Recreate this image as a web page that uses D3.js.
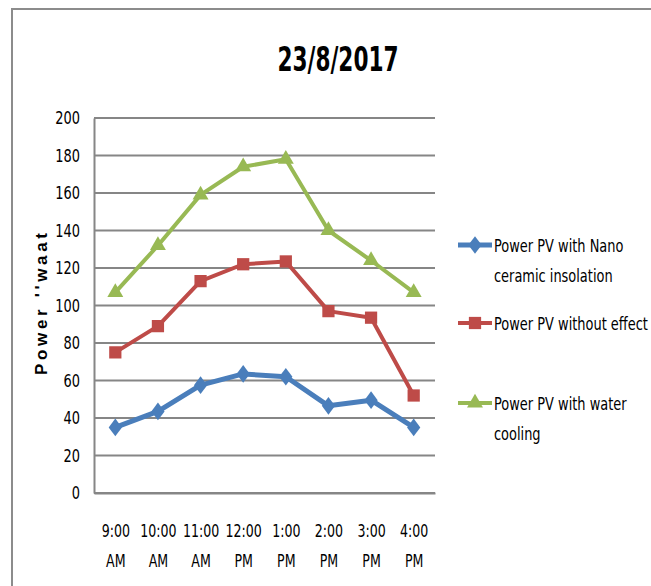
<!DOCTYPE html>
<html>
<head>
  <meta charset="utf-8">
  <title>23/8/2017</title>
  <style>
  body { margin: 0; background: #fff; }
  text { font-family: "DejaVu Sans", sans-serif; fill: #000; }
  .grid line { stroke: #868686; stroke-width: 2; }
  .series path.line { fill: none; stroke-linejoin: round; stroke-linecap: round; }
  </style>
</head>
<body>
  <script src="https://d3js.org/d3.v7.min.js"></script>
  <script>
    // values
    var times = ["9:00 AM", "10:00 AM", "11:00 AM", "12:00 PM", "1:00 PM", "2:00 PM", "3:00 PM", "4:00 PM"];
    var nanoCeramic = [35, 43.5, 57.5, 63.5, 62, 46.5, 49.5, 35];
    var withoutEffect = [75, 89, 113, 122, 123.5, 97, 93.5, 52];
    var waterCooling = [107, 132, 159, 174, 178, 140, 124, 107];
    var yTicks = [0, 20, 40, 60, 80, 100, 120, 140, 160, 180, 200];

    var series = [
      { name: ["Power PV with Nano", "ceramic insolation"], values: nanoCeramic, color: "#4A7EBB", symbol: d3.symbolDiamond, size: 90, width: 5, ly: 245 },
      { name: ["Power PV without effect"], values: withoutEffect, color: "#BE4B48", symbol: d3.symbolSquare, size: 150, width: 4, ly: 323 },
      { name: ["Power PV with water", "cooling"], values: waterCooling, color: "#98B954", symbol: d3.symbolTriangle, size: 110, width: 4, ly: 403 }
    ];

    var width = 651, height = 586;

    // no narrow font installed, so squeeze text horizontally
    function condense(sel, k) {
      sel.each(function() {
        var t = d3.select(this);
        var tx = +t.attr("x") || 0, ty = +t.attr("y") || 0;
        t.attr("x", 0).attr("y", 0)
         .attr("transform", "translate(" + tx + "," + ty + ") scale(" + k + ",1)");
      });
    }

    var svg = d3.select("body").append("svg")
        .attr("width", width)
        .attr("height", height);

    // chart border (only top & left visible)
    svg.append("path")
        .attr("d", "M12,586V9H651")
        .attr("fill", "none")
        .attr("stroke", "#8c8c8c")
        .attr("stroke-width", 2);

    var x = d3.scalePoint().domain(times).range([94, 435]).padding(0.5);
    var y = d3.scaleLinear().domain([0, 200]).range([493, 118]);

    // gridlines
    svg.append("g").attr("class", "grid")
      .selectAll("line")
      .data(yTicks)
      .enter().append("line")
        .attr("x1", 94).attr("x2", 435)
        .attr("y1", function(d) { return y(d); })
        .attr("y2", function(d) { return y(d); });

    // y axis
    var yAxis = svg.append("g")
        .attr("transform", "translate(94,0)")
        .call(d3.axisLeft(y).tickValues(yTicks).tickSize(0).tickPadding(14));
    yAxis.attr("font-family", null).attr("font-size", null);
    yAxis.select(".domain").attr("stroke", "#868686").attr("stroke-width", 2);
    yAxis.selectAll("text").attr("font-size", 18).call(condense, 0.72);

    // x axis with two-line labels
    var xAxis = svg.append("g")
        .attr("transform", "translate(0,493)")
        .call(d3.axisBottom(x).tickSize(0).tickFormat(""));
    xAxis.attr("font-family", null).attr("font-size", null);
    xAxis.select(".domain").attr("stroke", "#868686").attr("stroke-width", 2);
    xAxis.selectAll(".tick").each(function(d) {
      var tk = d3.select(this);
      d.split(" ").forEach(function(p, i) {
        tk.append("text")
            .attr("class", "xl")
            .attr("text-anchor", "middle")
            .attr("font-size", 17.5)
            .attr("y", 44 + i * 30)
            .attr("fill", "#000")
            .text(p);
      });
    });
    xAxis.selectAll("text.xl").call(condense, 0.72);

    // title
    svg.append("text")
        .attr("x", 338).attr("y", 71)
        .attr("text-anchor", "middle")
        .attr("font-size", 34)
        .attr("font-weight", "bold")
        .attr("textLength", 121)
        .attr("lengthAdjust", "spacingAndGlyphs")
        .text("23/8/2017");

    // y axis title
    svg.append("text")
        .attr("transform", "translate(47,304) rotate(-90)")
        .attr("text-anchor", "middle")
        .attr("font-size", 17)
        .attr("font-weight", 700)
        .attr("textLength", 142)
        .attr("lengthAdjust", "spacing")
        .style("font-family", "'Liberation Sans', Arial, sans-serif")
        .text("Power ''waat");

    var line = d3.line()
        .x(function(d, i) { return x(times[i]); })
        .y(function(d) { return y(d); });

    var g = svg.selectAll(".series")
        .data(series)
      .enter().append("g")
        .attr("class", "series");

    g.append("path")
        .attr("class", "line")
        .attr("d", function(s) { return line(s.values); })
        .attr("stroke", function(s) { return s.color; })
        .attr("stroke-width", function(s) { return s.width; });

    g.each(function(s) {
      var sym = d3.symbol().type(s.symbol).size(s.size);
      d3.select(this).selectAll(".pt")
          .data(s.values)
        .enter().append("path")
          .attr("class", "pt")
          .attr("transform", function(d, i) {
            var sy = s.symbol === d3.symbolDiamond ? " scale(1.3,1)" : "";
            return "translate(" + x(times[i]) + "," + y(d) + ")" + sy;
          })
          .attr("d", sym())
          .attr("fill", s.color);
    });

    // legend
    var lg = svg.append("g").selectAll("g")
        .data(series)
      .enter().append("g")
        .attr("transform", function(s) { return "translate(0," + s.ly + ")"; });

    lg.append("line")
        .attr("x1", 458).attr("x2", 492)
        .attr("y1", 0).attr("y2", 0)
        .attr("stroke", function(s) { return s.color; })
        .attr("stroke-width", function(s) { return s.width; });

    lg.append("path")
        .attr("transform", function(s) {
          return "translate(475,0)" + (s.symbol === d3.symbolDiamond ? " scale(1.3,1)" : "");
        })
        .attr("d", function(s) { return d3.symbol().type(s.symbol).size(s.size)(); })
        .attr("fill", function(s) { return s.color; });

    lg.each(function(s) {
      var gg = d3.select(this);
      s.name.forEach(function(n, i) {
        gg.append("text")
            .attr("class", "lt")
            .attr("x", 494).attr("y", 7 + i * 30)
            .attr("font-size", 18)
            .text(n);
      });
    });
    lg.selectAll("text.lt").call(condense, 0.72);
  </script>
</body>
</html>
